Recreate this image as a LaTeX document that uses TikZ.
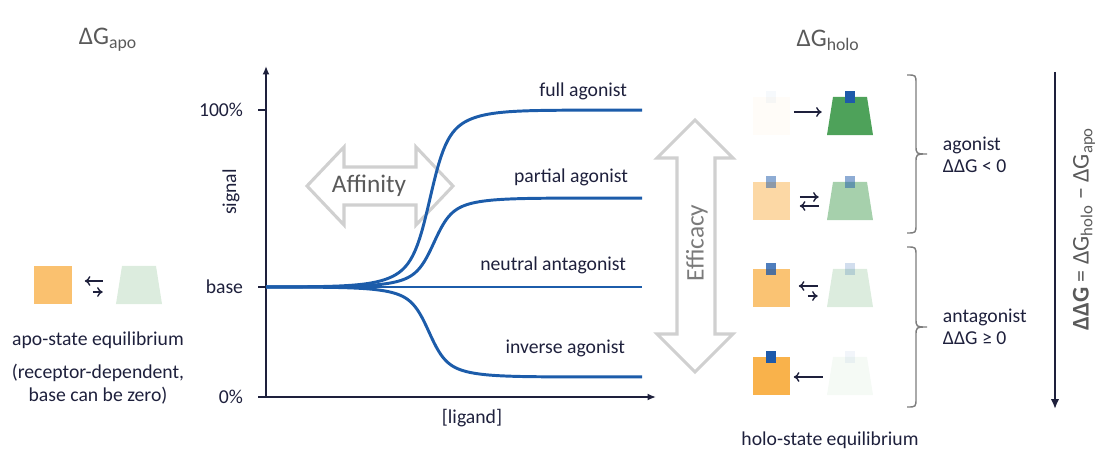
\documentclass[tikz,border=0pt]{standalone}
\usepackage{fontspec}
\setmainfont{Carlito}
\usetikzlibrary{arrows.meta,shapes.geometric}
\definecolor{ink}{RGB}{30,32,60}
\definecolor{doseblue}{RGB}{28,92,170}
\definecolor{recorange}{RGB}{249,178,75}
\definecolor{recgreen}{RGB}{78,162,90}
\definecolor{ligblue}{RGB}{30,90,170}
\definecolor{arrowgray}{RGB}{208,208,208}
\definecolor{labelgray}{RGB}{90,90,90}
\definecolor{bracegray}{RGB}{125,125,125}
\newcommand{\txt}{\fontsize{14}{16}\selectfont}
\newcommand{\bigtxt}{\fontsize{18}{20}\selectfont}
\begin{document}
\begin{tikzpicture}[x=0.025cm, y=-0.025cm, color=ink, font=\txt,
    declare function={sig(\t)=1/(1+exp(-max(-8,min(8,\t))));
      resp(\x,\m)=0.65*sig((\x-\m)/8)+0.35*sig((\x-\m)/22);},
    sq/.style={minimum size=0.925cm, inner sep=0pt, fill=recorange},
    trap/.style={trapezium, trapezium angle=80, trapezium stretches=true,
      minimum width=1.15cm, minimum height=0.95cm, inner sep=1pt, fill=recgreen},
    lig/.style={minimum width=0.24cm, minimum height=0.3cm, inner sep=0pt, fill=ligblue},
    eq/.style={-{To[length=4pt,width=7pt]}, line width=1pt},
    axis/.style={-{Latex[length=6pt,width=5pt]}, line width=1.4pt},
    dose/.style={doseblue, line width=2.1pt},
    blockarrow/.style={draw=arrowgray, line width=2.2pt, fill=white, line join=miter},
    bracket/.style={bracegray, line width=1pt}]
  \useasboundingbox (0,0) rectangle (1097,452);

  % free energy titles
  \node[labelgray, font=\bigtxt] (gapo) at (108,40) {ΔG\textsubscript{apo}};
  \node[labelgray, font=\bigtxt] (gholo) at (828,40) {ΔG\textsubscript{holo}};

  % apo state
  \node[sq, fill opacity=0.8] (apo1) at (53,285) {};
  \node[trap, fill opacity=0.2] (apo2) at (139,285) {};
  \draw[eq] ([shift={(-16,-4)}]apo2.west) -- ([shift={(13,-4)}]apo1.east);
  \draw[eq] ([shift={(21,7)}]apo1.east) -- ([shift={(-16,7)}]apo2.west);
  \node (apolbl) at (98,340) {apo-state equilibrium};
  \node[align=center] (aponote) at (98,384) {(receptor-dependent,\\base can be zero)};

  % axes
  \coordinate (O) at (266,397);
  \coordinate (ytop) at (266,66);
  \coordinate (xend) at (656,397);
  \draw[axis] (O) -- (ytop);
  \draw[axis] (O) -- (xend);
  \foreach \y/\t/\n in {110/100\%/hi, 287/base/mid, 397/0\%/lo} {
    \draw[line width=1.4pt] (258,\y) -- (266,\y);
    \node[anchor=east] (tick-\n) at (248,\y) {\t};
  }
  \node[rotate=90] (ylbl) at (231,192) {signal};
  \node (xlbl) at (472,418) {[ligand]};

  % affinity arrow
  \draw[blockarrow] (307,186) -- (344,147) -- (344,167) -- (416,167) -- (416,147)
    -- (453,186) -- (416,225) -- (416,205) -- (344,205) -- (344,225) -- cycle;
  \node[labelgray, font=\bigtxt] (affin) at (369,186) {Affinity};

  % dose response curves
  \draw[dose] plot[domain=266:642, samples=160] (\x, {287-177*resp(\x,430)});
  \draw[dose] plot[domain=266:642, samples=160] (\x, {287-89*resp(\x,434)});
  \draw[dose] (266,287) -- (642,287);
  \draw[dose] plot[domain=266:642, samples=160] (\x, {287+90*resp(\x,429)});
  \node[anchor=east] (full) at (632,91) {full agonist};
  \node[anchor=east] (partial) at (633,177) {partial agonist};
  \node[anchor=east] (neutral) at (631,265) {neutral antagonist};
  \node[anchor=east] (inverse) at (630,348) {inverse agonist};

  % efficacy arrow
  \draw[blockarrow] (695,120) -- (733,158) -- (715,158) -- (715,334) -- (733,334)
    -- (695,372) -- (657,334) -- (677,334) -- (677,158) -- (657,158) -- cycle;
  \node[labelgray!80, font=\bigtxt, rotate=90] (effic) at (697,243) {Efficacy};

  % holo states
  \foreach \r/\y/\so/\to in {1/116/0.04/1, 2/201/0.5/0.5, 3/288/0.78/0.2, 4/376/1/0.06} {
    \node[sq, fill opacity=\so] (s\r) at (771,\y) {};
    \node[lig, fill opacity=\so] (ls\r) at (s\r.north) {};
    \node[trap, fill opacity=\to] (t\r) at (850,\y) {};
    \node[lig, fill opacity=\to] (lt\r) at (t\r.north) {};
  }
  \draw[eq] ([shift={(4,-4)}]s1.east) -- ([shift={(-8,-4)}]t1.west);
  \draw[eq] ([shift={(10,-4)}]s2.east) -- ([shift={(-11,-4)}]t2.west);
  \draw[eq] ([shift={(-11,5)}]t2.west) -- ([shift={(10,5)}]s2.east);
  \draw[eq] ([shift={(-12,-2)}]t3.west) -- ([shift={(9,-2)}]s3.east);
  \draw[eq] ([shift={(18,8)}]s3.east) -- ([shift={(-12,8)}]t3.west);
  \draw[eq] ([shift={(-7,1)}]t4.west) -- ([shift={(4,1)}]s4.east);
  \node (hololbl) at (830,440) {holo-state equilibrium};

  % brackets
  \draw[bracket] (907,75) .. controls (916,75) .. (916,84) -- (916,145)
    .. controls (916,154) .. (927,154) .. controls (916,154) .. (916,163)
    -- (916,224) .. controls (916,233) .. (907,233);
  \draw[bracket] (907,247) .. controls (916,247) .. (916,256) -- (916,318)
    .. controls (916,327) .. (927,327) .. controls (916,327) .. (916,336)
    -- (916,398) .. controls (916,407) .. (907,407);
  \node[anchor=west, align=left] (ago) at (938,155) {agonist\\ΔΔG < 0};
  \node[anchor=west, align=left] (antago) at (938,327) {antagonist\\ΔΔG ≥ 0};

  % free energy difference
  \coordinate (dtop) at (1055,72);
  \coordinate (dbot) at (1055,409);
  \draw[-{Latex[length=7pt,width=6pt]}, line width=1.5pt] (dtop) -- (dbot);
  \node[labelgray, font=\fontsize{17}{19}\selectfont, rotate=90] (ddg) at (1084,229)
    {\textbf{ΔΔG} = ΔG\textsubscript{holo} − ΔG\textsubscript{apo}};
\end{tikzpicture}
\end{document}
